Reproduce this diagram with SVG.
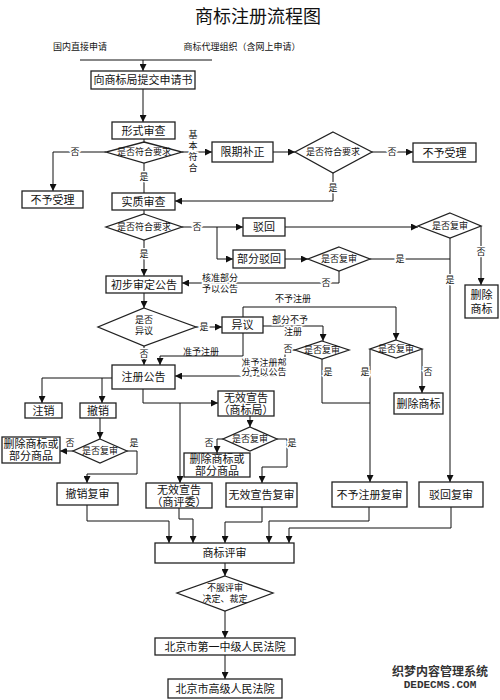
<svg xmlns="http://www.w3.org/2000/svg" width="500" height="700" viewBox="0 0 500 700">
<defs>
<marker id="ah" markerUnits="userSpaceOnUse" markerWidth="7" markerHeight="7" refX="7" refY="3.5" orient="auto"><path d="M0,0 L7,3.5 L0,7 z" fill="#111"/></marker>
<style>
text{font-family:"Liberation Serif","Noto Sans CJK SC",serif;fill:#111;text-anchor:middle;dominant-baseline:central}
.box{fill:#fff;stroke:#222;stroke-width:1.3}
.t{font-size:11px}
.s{font-size:9px}
.lb{font-size:9px;paint-order:stroke;stroke:#fff;stroke-width:3}
.e{fill:none;stroke:#111;stroke-width:1}
.a{marker-end:url(#ah)}
</style>
</defs>
<rect width="500" height="700" fill="#fff"/>
<text x="258" y="17" style="font-size:18px">商标注册流程图</text>
<text class="s" x="80" y="47">国内直接申请</text>
<text class="s" x="242" y="47">商标代理组织（含网上申请）</text>

<g id="edges">
<path class="e" d="M80,60 H212"/>
<path class="e a" d="M143,60 V71"/>
<path class="e a" d="M143,89 V122"/>
<path class="e" d="M144,139 V142"/>
<path class="e a" d="M106,152 H53 V191"/>
<path class="e" d="M144,163 V193"/>
<path class="e a" d="M182,152 H212"/>
<path class="e a" d="M273,152 H295"/>
<path class="e a" d="M372,152 H413"/>
<path class="e a" d="M333,173 V201 H175"/>
<path class="e" d="M144,210 V214"/>
<path class="e a" d="M182,227 H243"/>
<path class="e a" d="M217,227 V259 H233"/>
<path class="e a" d="M144,240 V276"/>
<path class="e a" d="M285,227 H418"/>
<path class="e a" d="M481,226 V285"/>
<path class="e a" d="M450,238 V482"/>
<path class="e a" d="M285,259 H308"/>
<path class="e" d="M370,259 H450"/>
<path class="e a" d="M339,271 V283 H182"/>
<path class="e a" d="M144,293 V308"/>
<path class="e a" d="M196,327 H222"/>
<path class="e a" d="M144,346 V365"/>
<path class="e a" d="M243,333 V356 H160 V365"/>
<path class="e a" d="M243,317 V307 H396 V340"/>
<path class="e a" d="M263,326 H323 V341"/>
<path class="e a" d="M295,350 H285 V376 H175"/>
<path class="e" d="M322,359 V403 H370"/>
<path class="e a" d="M370,349 V482"/>
<path class="e a" d="M422,349 V393"/>
<path class="e a" d="M112,378 H42 V403"/>
<path class="e a" d="M102,378 V403"/>
<path class="e a" d="M143,389 V403 H218"/>
<path class="e a" d="M180,403 V483"/>
<path class="e a" d="M100,418 V439"/>
<path class="e a" d="M73,451 H60"/>
<path class="e a" d="M127,451 H137 V474 H87 V483"/>
<path class="e a" d="M250,416 V427"/>
<path class="e a" d="M223,439 H217 V453"/>
<path class="e a" d="M277,439 H287 V467 H262 V483"/>
<path class="e a" d="M87,505 V521 H169 V543"/>
<path class="e a" d="M179,508 V519 H193 V543"/>
<path class="e a" d="M262,507 V522 H225 V543"/>
<path class="e a" d="M369,507 V521 H269 V543"/>
<path class="e a" d="M451,507 V528 H289 V543"/>
<path class="e a" d="M225,563 V576"/>
<path class="e a" d="M225,611 V638"/>
<path class="e a" d="M225,655 V679"/>
<text class="lb" x="75" y="152">否</text>
<text class="lb" x="144" y="177">是</text>
<text class="lb" x="193" y="135">基</text>
<text class="lb" x="193" y="146">本</text>
<text class="lb" x="193" y="157">符</text>
<text class="lb" x="193" y="168">合</text>
<text class="lb" x="392" y="152">否</text>
<text class="lb" x="333" y="188">是</text>
<text class="lb" x="197" y="227">否</text>
<text class="lb" x="144" y="254">是</text>
<text class="lb" x="481" y="252">否</text>
<text class="lb" x="450" y="280">是</text>
<text class="lb" x="400" y="259">是</text>
<text class="lb" x="326" y="283">否</text>
<text class="lb" x="220" y="278">核准部分</text>
<text class="lb" x="220" y="289">予以公告</text>
<text class="lb" x="204" y="327">是</text>
<text class="lb" x="144" y="354">否</text>
<text class="s" x="201" y="352">准予注册</text>
<text class="lb" x="293" y="299">不予注册</text>
<text class="lb" x="290" y="320">部分不予</text>
<text class="lb" x="293" y="332">注册</text>
<text class="lb" x="288" y="349">否</text>
<text class="lb" x="264" y="363">准予注册部</text>
<text class="lb" x="264" y="372">分予以公告</text>
<text class="lb" x="328" y="372">是</text>
<text class="lb" x="365" y="372">是</text>
<text class="lb" x="428" y="372">否</text>
<text class="lb" x="70" y="443">否</text>
<text class="lb" x="134" y="443">是</text>
<text class="lb" x="209" y="443">否</text>
<text class="lb" x="292" y="443">是</text>
</g>

<g id="n1"><rect class="box" x="91" y="71" width="104" height="18"/><text class="t" x="143" y="80">向商标局提交申请书</text></g>
<g id="n2"><rect class="box" x="112" y="122" width="63" height="17"/><text class="t" x="143.5" y="130.5">形式审查</text></g>
<g id="d1"><polygon class="box" points="144,142 182,152 144,163 106,152"/><text class="s" x="144" y="152">是否符合要求</text></g>
<g id="n3"><rect class="box" x="22" y="191" width="61" height="17"/><text class="t" x="52.5" y="199.5">不予受理</text></g>
<g id="n4"><rect class="box" x="212" y="142" width="61" height="20"/><text class="t" x="242.5" y="152">限期补正</text></g>
<g id="d2"><polygon class="box" points="333,132 372,152 333,173 295,152"/><text class="s" x="333" y="152">是否符合要求</text></g>
<g id="n5"><rect class="box" x="413" y="143" width="63" height="19"/><text class="t" x="444.5" y="152.5">不予受理</text></g>
<g id="n6"><rect class="box" x="112" y="193" width="63" height="17"/><text class="t" x="143.5" y="201.5">实质审查</text></g>
<g id="d3"><polygon class="box" points="144,214 182,227 144,240 106,227"/><text class="s" x="144" y="227">是否符合要求</text></g>
<g id="n7"><rect class="box" x="243" y="218" width="42" height="18"/><text class="t" x="264" y="227">驳回</text></g>
<g id="n8"><rect class="box" x="233" y="250" width="52" height="18"/><text class="t" x="259" y="259">部分驳回</text></g>
<g id="d5"><polygon class="box" points="339,247 370,259 339,271 308,259"/><text class="s" x="339" y="259">是否复审</text></g>
<g id="d4"><polygon class="box" points="450,213 481,226 450,238 418,226"/><text class="s" x="450" y="226">是否复审</text></g>
<g id="n9"><rect class="box" x="465" y="285" width="33" height="33"/><text class="t" x="481.5" y="295">删除</text><text class="t" x="481.5" y="309">商标</text></g>
<g id="n10"><rect class="box" x="106" y="276" width="76" height="17"/><text class="t" x="144" y="284.5">初步审定公告</text></g>
<g id="d6"><polygon class="box" points="144,308 196,327 144,346 98,327"/><text class="s" x="144" y="320">是否</text><text class="s" x="144" y="331">异议</text></g>
<g id="n11"><rect class="box" x="222" y="317" width="41" height="16"/><text class="t" x="242.5" y="325">异议</text></g>
<g id="d8"><polygon class="box" points="322,341 349,350 322,359 295,350"/><text class="s" x="322" y="350">是否复审</text></g>
<g id="d7"><polygon class="box" points="396,340 422,349 396,358 370,349"/><text class="s" x="396" y="349">是否复审</text></g>
<g id="n12"><rect class="box" x="112" y="365" width="63" height="24"/><text class="t" x="143.5" y="377">注册公告</text></g>
<g id="n13"><rect class="box" x="25" y="403" width="37" height="15"/><text class="t" x="43.5" y="410.5">注销</text></g>
<g id="n14"><rect class="box" x="80" y="403" width="36" height="15"/><text class="t" x="98" y="410.5">撤销</text></g>
<g id="n15"><rect class="box" x="2" y="437" width="58" height="26"/><text class="t" x="31" y="444">删除商标或</text><text class="t" x="31" y="456">部分商品</text></g>
<g id="d9"><polygon class="box" points="100,439 127,451 100,463 73,451"/><text class="s" x="100" y="451">是否复审</text></g>
<g id="n16"><rect class="box" x="57" y="483" width="61" height="22"/><text class="t" x="87.5" y="494">撤销复审</text></g>
<g id="n17"><rect class="box" x="218" y="391" width="56" height="25"/><text class="t" x="246" y="398">无效宣告</text><text class="t" x="246" y="410">（商标局）</text></g>
<g id="d10"><polygon class="box" points="250,427 277,439 250,451 223,439"/><text class="s" x="250" y="439">是否复审</text></g>
<g id="n18"><rect class="box" x="184" y="453" width="66" height="24"/><text class="t" x="217" y="459">删除商标或</text><text class="t" x="217" y="471">部分商品</text></g>
<g id="n19"><rect class="box" x="146" y="483" width="66" height="25"/><text class="t" x="179" y="490">无效宣告</text><text class="t" x="179" y="502">（商评委）</text></g>
<g id="n20"><rect class="box" x="226" y="483" width="71" height="24"/><text class="t" x="261.5" y="495">无效宣告复审</text></g>
<g id="n21"><rect class="box" x="394" y="393" width="49" height="21"/><text class="t" x="418.5" y="403.5">删除商标</text></g>
<g id="n22"><rect class="box" x="332" y="482" width="75" height="25"/><text class="t" x="369.5" y="494.5">不予注册复审</text></g>
<g id="n23"><rect class="box" x="419" y="482" width="64" height="25"/><text class="t" x="451" y="494.5">驳回复审</text></g>
<g id="n24"><rect class="box" x="155" y="543" width="139" height="20"/><text class="t" x="224.5" y="553">商标评审</text></g>
<g id="d11"><polygon class="box" points="225,576 273,593 225,611 177,593"/><text class="s" x="225" y="588">不服评审</text><text class="s" x="225" y="599">决定、裁定</text></g>
<g id="n25"><rect class="box" x="155" y="638" width="140" height="17"/><text class="t" x="225" y="646.5">北京市第一中级人民法院</text></g>
<g id="n26"><rect class="box" x="168" y="679" width="114" height="19"/><text class="t" x="225" y="688.5">北京市高级人民法院</text></g>

<text x="440" y="672" style="font-size:12px;font-weight:bold;fill:#333">织梦内容管理系统</text>
<text x="440" y="685" style="font-size:11px;font-weight:bold;fill:#333;font-family:'Liberation Mono',monospace">DEDECMS.COM</text>
</svg>
